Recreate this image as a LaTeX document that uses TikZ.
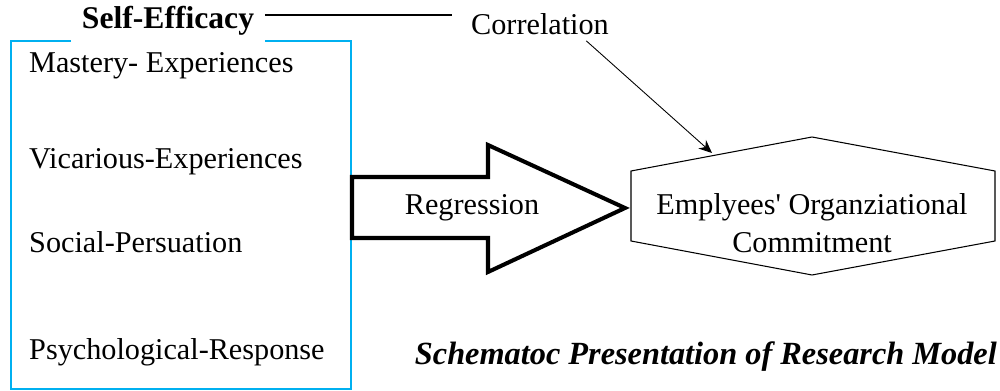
\documentclass[tikz,border=0pt]{standalone}
\usepackage{fontspec}
\setmainfont{Liberation Serif}
\usetikzlibrary{arrows.meta,positioning}
\definecolor{boxblue}{RGB}{0,176,240}

\begin{document}
\begin{tikzpicture}[x=0.02cm, y=-0.02cm, line join=miter]
  % stijlen
  \tikzset{
    txt/.style={font=\fontsize{17.2}{21.5}\selectfont},
    title/.style={font=\fontsize{18}{21.5}\selectfont\bfseries, inner xsep=6pt},
    effbox/.style={draw=boxblue, line width=1pt},
    regarrow/.style={draw=black, line width=2.3pt, fill=white},
    hexa/.style={draw=black, line width=0.6pt},
    corrline/.style={draw=black, line width=0.5pt, -{Stealth[length=7.5pt,width=6.5pt]}}
  }
  \useasboundingbox (0,0) rectangle (1000,391);
  % kop en correlatie
  \node[title] (selfeff) at (168,21) {Self-Efficacy};
  \node[txt, inner xsep=11pt] (corr) at (540,24) {Correlation};
  \draw[line width=0.8pt] (selfeff.east |- 0,15) -- (corr.west |- 0,15);
  % kader
  \draw[effbox] (selfeff.west |- 0,41) -- (11,41) -- (11,389) -- (351,389)
    -- (351,41) -- (selfeff.east |- 0,41);
  \node[txt, anchor=west] (mastery) at (23,66) {Mastery- Experiences};
  \node[txt, anchor=west] (vicarious) at (23,162) {Vicarious-Experiences};
  \node[txt, anchor=west] (social) at (23,242) {Social-Persuation};
  \node[txt, anchor=west] (psych) at (23,352) {Psychological-Response};
  % regressiepijl
  \draw[regarrow] (352,177) -- (488,177) -- (488,145) -- (625,208)
    -- (488,272) -- (488,238) -- (352,238) -- cycle;
  \node[txt] (regr) at (472,208) {Regression};
  % zeshoek
  \draw[hexa] (631,171) -- (812,137) -- (995,171) -- (995,241)
    -- (812,275) -- (631,241) -- cycle;
  \node[txt, align=center] (commit) at (812,223)
    {Emplyees\textquotesingle{} Organziational\\Commitment};
  \coordinate (corrtip) at (712,153);
  \draw[corrline] (corr.-20) -- (corrtip);
  % onderschrift
  \node[font=\fontsize{18.4}{21.5}\selectfont\bfseries\itshape, anchor=east]
    (caption) at (1003,357) {Schematoc Presentation of Research Model};
\end{tikzpicture}
\end{document}
